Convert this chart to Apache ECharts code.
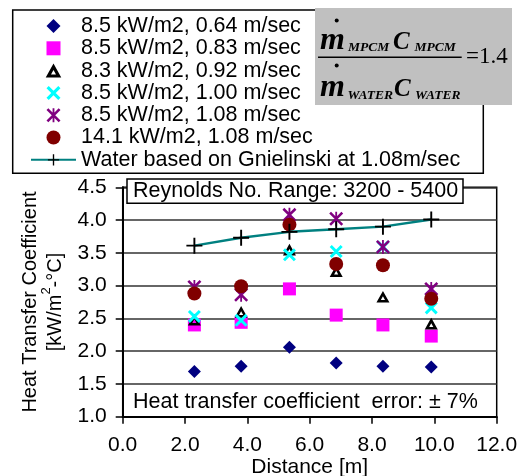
<!DOCTYPE html>
<html>
<head>
<meta charset="utf-8">
<script src="https://cdn.jsdelivr.net/npm/echarts@6/dist/echarts.min.js"></script>
<style>
  html, body { margin: 0; padding: 0; background: #fff; }
  #chart { width: 520px; height: 476px; }
</style>
</head>
<body>
<div id="chart"></div>
<script>
// Measurement stations along the test section [m]
const distance = [2.3, 3.8, 5.35, 6.85, 8.35, 9.9];

// Heat transfer coefficient [kW/m2-°C] for each run
const h_85_064 = [1.69, 1.77, 2.06, 1.82, 1.77, 1.76];
const h_85_083 = [2.40, 2.44, 2.95, 2.55, 2.40, 2.23];
const h_83_092 = [2.48, 2.60, 3.55, 3.22, 2.83, 2.42];
const h_85_100 = [2.53, 2.47, 3.47, 3.52, 3.59, 2.66];
const h_85_108 = [2.98, 2.86, 4.08, 4.02, 3.59, 2.95];
const h_141_108 = [2.88, 2.99, 3.93, 3.33, 3.31, 2.80];
const h_water = [3.61, 3.73, 3.82, 3.86, 3.90, 4.01];

const runNames = [
  '8.5 kW/m2, 0.64 m/sec',
  '8.5 kW/m2, 0.83 m/sec',
  '8.3 kW/m2, 0.92 m/sec',
  '8.5 kW/m2, 1.00 m/sec',
  '8.5 kW/m2, 1.08 m/sec',
  '14.1 kW/m2, 1.08 m/sec',
  'Water based on Gnielinski at 1.08m/sec'
];

// Axis ranges and tick steps
const xRange = [0, 12], xStep = 2;
const yRange = [1.0, 4.5], yStep = 0.5;

const reynoldsNote = 'Reynolds No. Range: 3200 - 5400';
const errorNote = 'Heat transfer coefficient  error: \u00b1 7%';

const SANS = '"Liberation Sans", Arial, Helvetica, sans-serif';
const SERIF = '"Liberation Serif", "Times New Roman", serif';

// Marker outlines (filled paths so legend and plot look alike)
const SYM = {
  diamond: 'path://M0,-1L1,0L0,1L-1,0Z',
  square: 'path://M-1,-1L1,-1L1,1L-1,1Z',
  triangle: 'path://M0,-1L1,0.8L-1,0.8Z M0,-0.176L-0.32,0.4L0.32,0.4Z',
  xmark: 'path://M-0.68,-1L1,0.68L0.68,1L-1,-0.68Z M1,-0.68L-0.68,1L-1,0.68L0.68,-1Z',
  star: 'path://M-0.74,-1L1,0.74L0.74,1L-1,-0.74Z M1,-0.74L-0.74,1L-1,0.74L0.74,-1Z M-0.13,-1L0.13,-1L0.13,1L-0.13,1Z',
  plus: 'path://M-0.12,-1L0.12,-1L0.12,1L-0.12,1Z M-1,-0.12L1,-0.12L1,0.12L-1,0.12Z'
};

const pairs = ys => distance.map((x, i) => [x, ys[i]]);

function scatter(name, ys, symbol, size, color) {
  return {
    name, type: 'scatter', data: pairs(ys),
    symbol, symbolSize: size, symbolKeepAspect: true,
    itemStyle: { color, opacity: 1 },
    emphasis: { disabled: true }, silent: true
  };
}

// Ratio box drawn over the upper right of the legend
const FZ = 20;
function ftext(x, y, text, font) {
  return { type: 'text', z: FZ, x, y, silent: true,
    style: { text, font, fill: '#000', align: 'left', verticalAlign: 'middle' } };
}
const ratioBox = [
  { type: 'rect', z: FZ - 1, silent: true, shape: { x: 315, y: 8, width: 197, height: 97 }, style: { fill: '#c0c0c0' } },
  { type: 'circle', z: FZ, silent: true, shape: { cx: 336.7, cy: 20.5, r: 2 }, style: { fill: '#000' } },
  ftext(320, 40.5, 'm', 'italic bold 32px ' + SERIF),
  ftext(348, 47.7, 'MPCM', 'italic bold 13.5px ' + SERIF),
  ftext(393, 42.4, 'C', 'italic bold 25px ' + SERIF),
  ftext(414.5, 47.7, 'MPCM', 'italic bold 13.5px ' + SERIF),
  { type: 'line', z: FZ, silent: true, shape: { x1: 318, y1: 57.3, x2: 461.7, y2: 57.3 }, style: { stroke: '#000', lineWidth: 1.5 } },
  ftext(466, 57.4, '=1.4', '23px ' + SERIF),
  { type: 'circle', z: FZ, silent: true, shape: { cx: 336.7, cy: 65.5, r: 2 }, style: { fill: '#000' } },
  ftext(320, 88.2, 'm', 'italic bold 32px ' + SERIF),
  ftext(347.5, 95.2, 'WATER', 'italic bold 13.5px ' + SERIF),
  ftext(394, 89.7, 'C', 'italic bold 25px ' + SERIF),
  ftext(415, 95.2, 'WATER', 'italic bold 13.5px ' + SERIF)
];

const chart = echarts.init(document.getElementById('chart'), null, { renderer: 'canvas' });

chart.setOption({
  animation: false,
  backgroundColor: '#fff',
  grid: {
    left: 122.7, right: 23.3, top: 187.3, bottom: 59.3,
    outerBoundsMode: 'none', containLabel: false,
    show: true, borderColor: '#000', borderWidth: 1.5, backgroundColor: 'transparent'
  },
  legend: {
    orient: 'vertical', left: 30, top: 15, padding: 0, z: 5,
    itemGap: 0.3, itemWidth: 45, itemHeight: 14,
    selectedMode: false, symbolKeepAspect: true,
    textStyle: { fontFamily: SANS, fontSize: 21.5, color: '#000', lineHeight: 22 },
    data: runNames
  },
  xAxis: {
    type: 'value', min: xRange[0], max: xRange[1], interval: xStep,
    name: 'Distance [m]', nameLocation: 'middle', nameGap: 39,
    nameTextStyle: { fontFamily: SANS, fontSize: 21, color: '#000' },
    axisLine: { show: true, onZero: false, lineStyle: { color: '#000', width: 2 } },
    axisTick: { show: true, length: 7, lineStyle: { color: '#000', width: 1.5 } },
    axisLabel: { formatter: v => v.toFixed(1), fontFamily: SANS, fontSize: 21, color: '#000', margin: 18 },
    splitLine: { show: false }
  },
  yAxis: {
    type: 'value', min: yRange[0], max: yRange[1], interval: yStep,
    name: '{a|Heat Transfer Coefficient}\n{b|[kW/m}{s|2}{b|-\u00b0C]}',
    nameLocation: 'middle', nameRotate: 90, nameGap: 52,
    nameTextStyle: {
      rich: {
        a: { fontFamily: SANS, fontSize: 20, lineHeight: 19, color: '#000' },
        b: { fontFamily: SANS, fontSize: 20, lineHeight: 31, color: '#000' },
        s: { fontFamily: SANS, fontSize: 13, lineHeight: 13, verticalAlign: 'top', color: '#000' }
      }
    },
    axisLine: { show: true, onZero: false, lineStyle: { color: '#000', width: 2 } },
    axisTick: { show: true, length: 7, lineStyle: { color: '#000', width: 1.5 } },
    axisLabel: { formatter: v => v.toFixed(1), fontFamily: SANS, fontSize: 21, color: '#000', margin: 16 },
    splitLine: { show: true, lineStyle: { color: '#333', width: 1.5 } }
  },
  series: [
    scatter(runNames[0], h_85_064, SYM.diamond, 13, '#000080'),
    scatter(runNames[1], h_85_083, SYM.square, 13, '#ff00ff'),
    scatter(runNames[2], h_83_092, SYM.triangle, 13, '#000000'),
    scatter(runNames[3], h_85_100, SYM.xmark, 13, '#00ffff'),
    scatter(runNames[4], h_85_108, SYM.star, 14, '#800080'),
    scatter(runNames[5], h_141_108, 'circle', 14, '#800000'),
    {
      name: runNames[6], type: 'line', data: pairs(h_water),
      symbol: SYM.plus, symbolSize: 16, symbolKeepAspect: true, showSymbol: true,
      lineStyle: { color: '#008080', width: 2.5 },
      itemStyle: { color: '#000000', borderWidth: 0 },
      emphasis: { disabled: true }, silent: true
    }
  ],
  graphic: {
    elements: [
      // frame around the legend
      {
        type: 'rect', z: 1, silent: true,
        shape: { x: 12.7, y: 10, width: 470.6, height: 163.3 },
        style: { fill: '#fff', stroke: '#000', lineWidth: 1.5 }
      },
      ...ratioBox,
      // Reynolds number note at the top of the plot
      {
        type: 'rect', z: 50, silent: true,
        shape: { x: 127, y: 179, width: 336, height: 24.3 },
        style: { fill: '#fff', stroke: '#000', lineWidth: 1.5 }
      },
      {
        type: 'text', z: 51, silent: true, x: 133, y: 191.5,
        style: { text: reynoldsNote, font: '21.5px ' + SANS, fill: '#000', align: 'left', verticalAlign: 'middle' }
      },
      // measurement uncertainty note
      {
        type: 'text', z: 50, silent: true, x: 133, y: 401.7,
        style: { text: errorNote, font: '21.5px ' + SANS, fill: '#000', align: 'left', verticalAlign: 'middle' }
      }
    ]
  }
});
</script>
</body>
</html>
